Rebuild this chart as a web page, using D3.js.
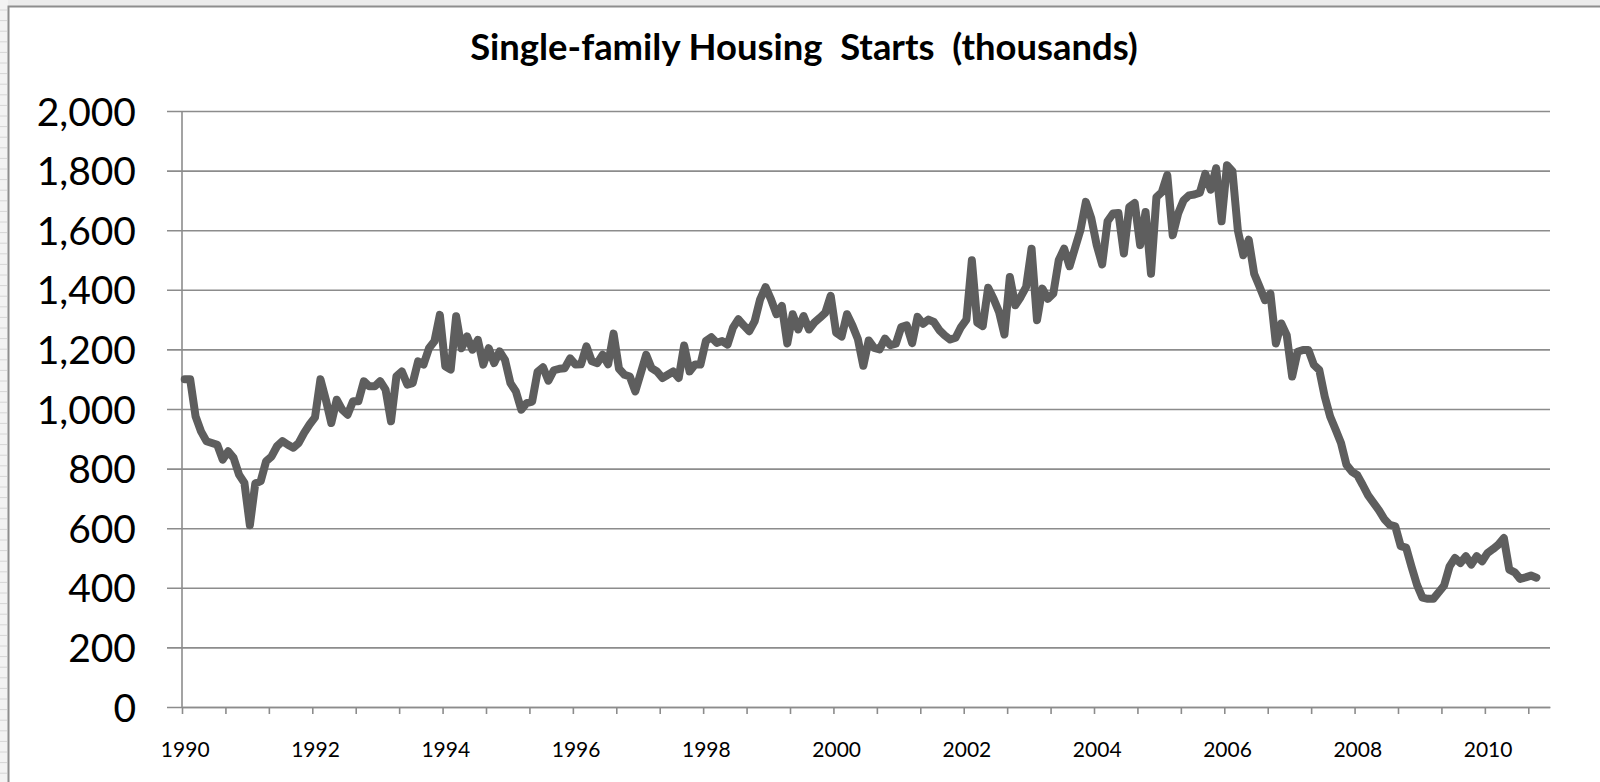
<!DOCTYPE html>
<html>
<head>
<meta charset="utf-8">
<script src="https://cdn.jsdelivr.net/npm/d3@7"></script>
<style>
  body { margin: 0; background: #ffffff; }
  svg { display: block; }
  .grid line { stroke: #8c8c8c; stroke-width: 1.6; }
  .grid path { display: none; }
  .ylabels path, .ylabels line { display: none; }
  .ylabels text { font-family: Lato, "Open Sans", sans-serif; font-size: 39px; fill: #000; }
  .xticks line, .xticks path { stroke: #8c8c8c; stroke-width: 1.6; }
  .xlabels path, .xlabels line { display: none; }
  .xlabels text { font-family: Lato, "Open Sans", sans-serif; font-size: 21px; fill: #000; }
  .title { font-family: Lato, "Open Sans", sans-serif; font-weight: bold; fill: #000; }
</style>
</head>
<body>
<div id="chart"></div>
<script>
let canvasWidth = 1600;
let canvasHeight = 782;
let xLeft = 182;
let xRight = 1550;
let yTop = 111;
let yBottom = 707;

let title = "Single-family Housing  Starts  (thousands)";

// monthly categories on the axis: Jan 1990 .. Dec 2010
let categoryCount = 252;
let yearLabels = ["1990", "1992", "1994", "1996", "1998", "2000",
                  "2002", "2004", "2006", "2008", "2010"];
let yTicks = [0, 200, 400, 600, 800, 1000, 1200, 1400, 1600, 1800, 2000];

// single-family starts, thousands, one value per month
let starts1990to1994 = [
  1100, 1100, 975, 925, 892, 886, 880, 830, 858, 836, 780, 752,
  610, 750, 758, 825, 841, 875, 892, 880, 870, 886, 920, 948,
  972, 1100, 1031, 953, 1031, 998, 981, 1026, 1026, 1093, 1076, 1076,
  1093, 1065, 959, 1110, 1126, 1082, 1087, 1160, 1149, 1204, 1227, 1316,
  1143, 1132, 1311, 1204, 1244, 1199, 1232, 1149, 1204, 1154, 1193, 1165
];
let starts1995to1999 = [
  1087, 1059, 998, 1020, 1025, 1125, 1140, 1095, 1130, 1135, 1137, 1170,
  1149, 1150, 1210, 1160, 1154, 1182, 1150, 1253, 1135, 1115, 1109, 1059,
  1120, 1182, 1137, 1126, 1104, 1115, 1126, 1104, 1213, 1126, 1149, 1149,
  1228, 1241, 1222, 1228, 1216, 1273, 1301, 1280, 1261, 1295, 1368, 1409,
  1368, 1318, 1346, 1220, 1318, 1267, 1312, 1267, 1290, 1306, 1323, 1380
];
let starts2000to2004 = [
  1256, 1243, 1318, 1280, 1235, 1145, 1230, 1205, 1200, 1236, 1214, 1219,
  1275, 1281, 1221, 1309, 1286, 1300, 1292, 1265, 1247, 1233, 1239, 1275,
  1300, 1499, 1290, 1278, 1407, 1370, 1326, 1250, 1443, 1348, 1376, 1410,
  1538, 1298, 1404, 1370, 1387, 1499, 1538, 1479, 1540, 1600, 1695, 1640,
  1550, 1485, 1630, 1656, 1658, 1522, 1678, 1691, 1550, 1661, 1454, 1711
];
let starts2005to2010 = [
  1728, 1785, 1583, 1656, 1700, 1717, 1720, 1726, 1789, 1736, 1808, 1630,
  1818, 1798, 1599, 1516, 1568, 1454, 1410, 1365, 1387, 1220, 1287, 1248,
  1109, 1192, 1198, 1198, 1148, 1131, 1042, 975, 931, 886, 813, 790,
  778, 745, 710, 685, 660, 630, 611, 606, 540, 535, 470, 410,
  367, 363, 363, 385, 408, 472, 500, 483, 506, 478, 506, 489,
  517, 530, 545, 567, 461, 452, 430, 435, 441, 434
];

let starts = starts1990to1994.concat(starts1995to1999, starts2000to2004, starts2005to2010);

let svg = d3.select("#chart")
    .append("svg")
    .attr("width", canvasWidth)
    .attr("height", canvasHeight);

// spreadsheet gutter around the chart frame
svg.append("rect")
    .attr("x", 0).attr("y", 0)
    .attr("width", canvasWidth).attr("height", 6)
    .attr("fill", "#ececec");
svg.append("rect")
    .attr("x", 0).attr("y", 0)
    .attr("width", 8).attr("height", canvasHeight)
    .attr("fill", "#f3f3f3");
svg.append("g")
    .selectAll("line")
    .data(d3.range(10, canvasHeight, 10.6))
    .join("line")
    .attr("x1", 0).attr("x2", 7)
    .attr("y1", d => d).attr("y2", d => d)
    .attr("stroke", "#d6d6d6")
    .attr("stroke-width", 1);

// chart frame
svg.append("rect")
    .attr("x", 8.5).attr("y", 6.5)
    .attr("width", canvasWidth + 20).attr("height", canvasHeight + 20)
    .attr("fill", "#ffffff")
    .attr("stroke", "#8e8e8e")
    .attr("stroke-width", 2);

let xScale = d3.scaleLinear().domain([0, categoryCount]).range([xLeft, xRight]);
let yScale = d3.scaleLinear().domain([0, 2000]).range([yBottom, yTop]);

// title, sized to the width it has in the picture
let titleText = svg.append("text")
    .attr("class", "title")
    .attr("x", 804)
    .attr("y", 60)
    .attr("text-anchor", "middle")
    .style("white-space", "pre")
    .style("font-size", "30px")
    .text(title);
let tw = titleText.node().getComputedTextLength();
titleText.style("font-size", (30 * 668 / tw) + "px");

// horizontal grid lines, starting at the outside tick marks
svg.append("g")
    .attr("class", "grid")
    .attr("transform", "translate(" + (xLeft - 15) + ",0)")
    .call(d3.axisRight(yScale)
        .tickValues(yTicks)
        .tickSize(xRight - xLeft + 15)
        .tickFormat(""));

// y labels
svg.append("g")
    .attr("class", "ylabels")
    .attr("transform", "translate(" + xLeft + ",0)")
    .call(d3.axisLeft(yScale)
        .tickValues(yTicks)
        .tickSize(0)
        .tickPadding(46)
        .tickFormat(d3.format(",")))
    .selectAll("text")
    .attr("dy", "0.36em");

// y axis line
svg.append("line")
    .attr("x1", xLeft).attr("x2", xLeft)
    .attr("y1", yTop).attr("y2", yBottom)
    .attr("stroke", "#8c8c8c")
    .attr("stroke-width", 1.6);

// x axis: a tick mark every 8 months
svg.append("g")
    .attr("class", "xticks")
    .attr("transform", "translate(0," + yBottom + ")")
    .call(d3.axisBottom(xScale)
        .tickValues(d3.range(0, categoryCount, 8))
        .tickSize(7)
        .tickSizeOuter(0)
        .tickFormat(""));

// x labels every 24 months, centred on their month
svg.append("g")
    .attr("class", "xlabels")
    .attr("transform", "translate(0," + yBottom + ")")
    .call(d3.axisBottom(xScale)
        .tickValues(yearLabels.map((d, i) => i * 24 + 0.5))
        .tickSize(0)
        .tickFormat((d, i) => yearLabels[i]))
    .selectAll("text")
    .attr("y", 50)
    .attr("dy", 0);

// the series
svg.append("path")
    .datum(starts)
    .attr("fill", "none")
    .attr("stroke", "#5e5e5e")
    .attr("stroke-width", 8)
    .attr("stroke-linejoin", "round")
    .attr("stroke-linecap", "round")
    .attr("d", d3.line()
        .x((d, i) => xScale(i + 0.5))
        .y(d => yScale(d)));
</script>
</body>
</html>
